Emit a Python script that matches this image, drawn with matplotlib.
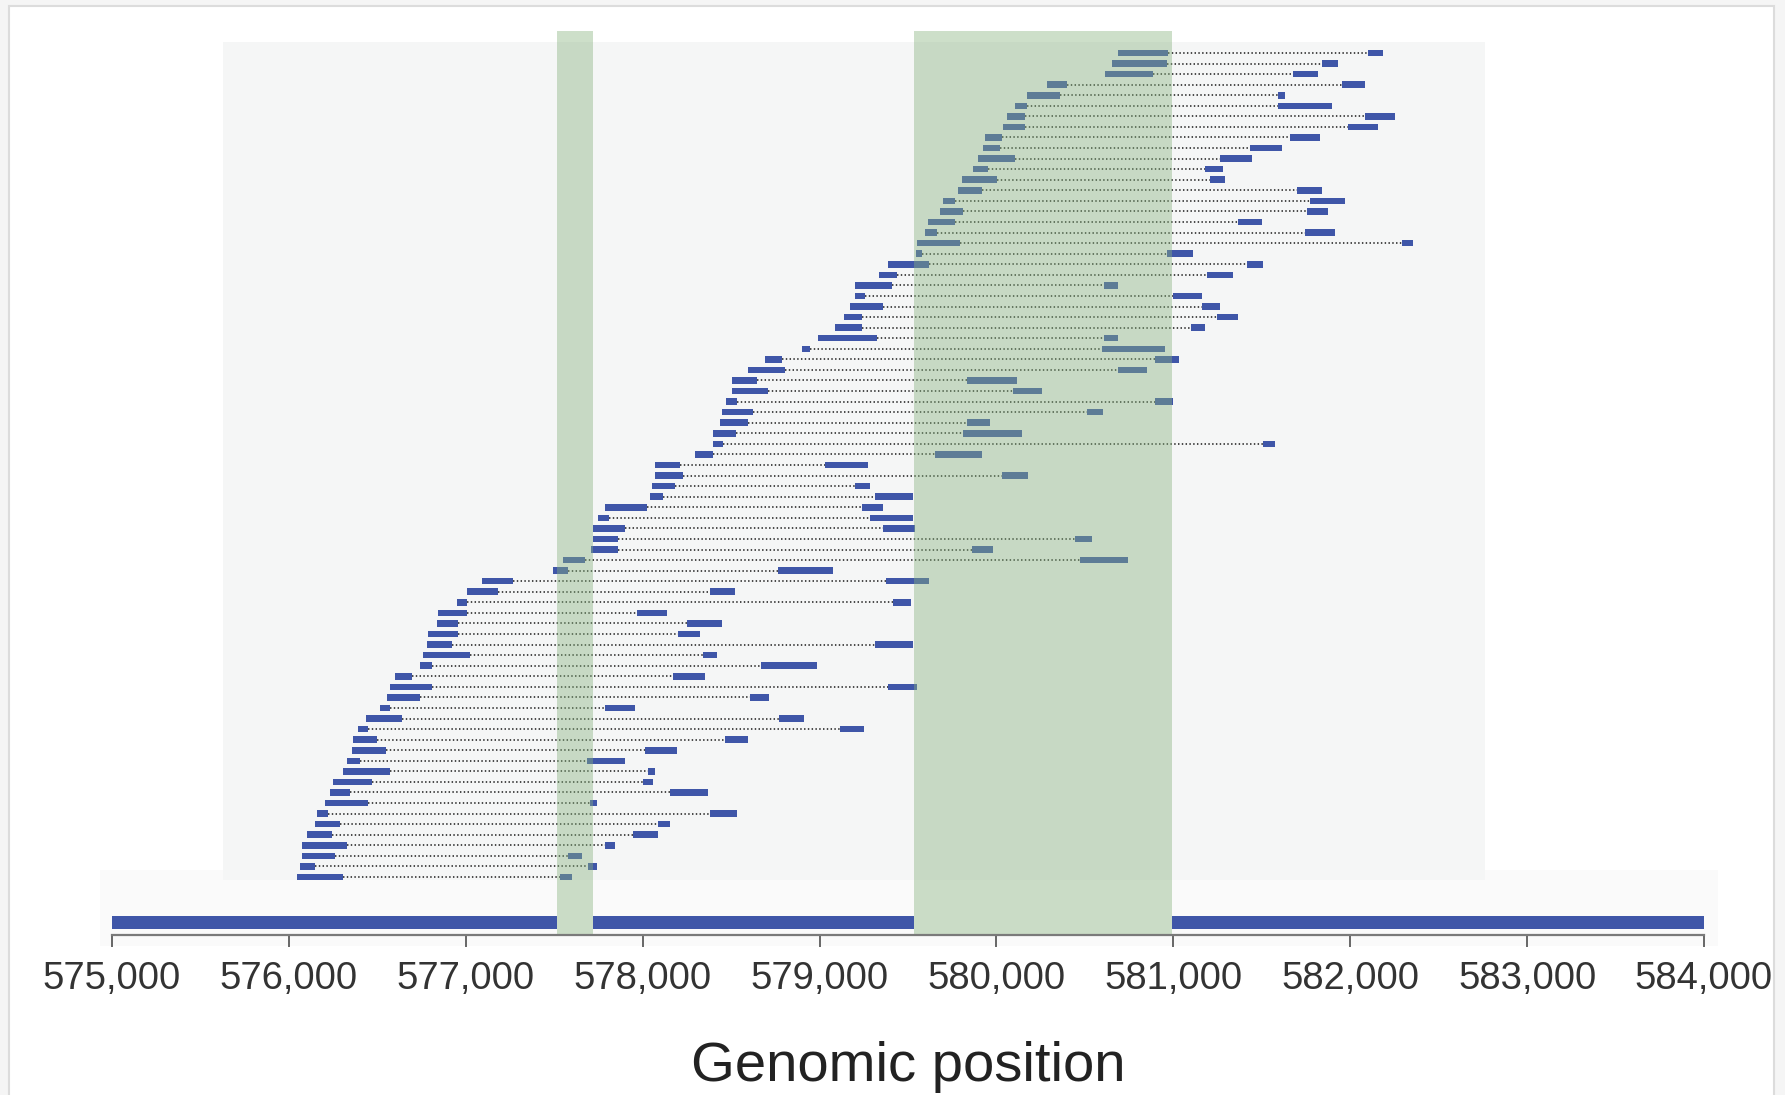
import numpy as np
import matplotlib
matplotlib.use('Agg')
import matplotlib.pyplot as plt
from matplotlib.patches import Rectangle
from matplotlib.ticker import FuncFormatter

# read alignments, top row first: first block and last block (genomic position)
left_start = [580687, 580653, 580613, 580285, 580172, 580105, 580059, 580037, 579935, 579924,
              579895, 579867, 579805, 579782, 579698, 579681, 579613, 579596, 579551, 579545,
              579387, 579336, 579200, 579200, 579172, 579138, 579087, 578991, 578901, 578691,
              578595, 578505, 578505, 578471, 578448, 578437, 578397, 578397, 578296, 578070,
              578070, 578053, 578041, 577787, 577747, 577719, 577719, 577708, 577549, 577493,
              577092, 577007, 576950, 576843, 576837, 576786, 576781, 576758, 576741, 576600,
              576571, 576555, 576515, 576436, 576391, 576362, 576357, 576328, 576306, 576249,
              576232, 576204, 576159, 576148, 576102, 576074, 576074, 576063, 576046]
left_end = [580970, 580964, 580885, 580399, 580359, 580172, 580161, 580161, 580031, 580020,
            580105, 579952, 580003, 579918, 579765, 579811, 579765, 579664, 579794, 579579,
            579618, 579438, 579409, 579257, 579358, 579240, 579240, 579324, 578946, 578787,
            578804, 578646, 578708, 578533, 578624, 578595, 578527, 578454, 578397, 578211,
            578228, 578183, 578115, 578024, 577810, 577900, 577860, 577860, 577674, 577578,
            577267, 577182, 577007, 577007, 576956, 576956, 576922, 577024, 576809, 576696,
            576809, 576741, 576571, 576639, 576447, 576498, 576549, 576402, 576571, 576470,
            576345, 576447, 576221, 576289, 576244, 576328, 576261, 576148, 576306]
right_start = [582100, 581840, 581676, 581953, 581591, 581591, 582083, 581987, 581659, 581433,
               581263, 581179, 581207, 581699, 581772, 581755, 581365, 581744, 582292, 580964,
               581416, 581190, 580608, 580998, 581162, 581246, 581100, 580608, 580596, 580896,
               580687, 579833, 580093, 580896, 580512, 579833, 579811, 581507, 579652, 579031,
               580031, 579200, 579313, 579240, 579285, 579358, 580444, 579862, 580472, 578765,
               579375, 578380, 579415, 577968, 578250, 578200, 579313, 578341, 578669, 578171,
               579387, 578607, 577787, 578770, 579115, 578465, 578013, 577685, 578030, 578002,
               578154, 577702, 578380, 578086, 577945, 577787, 577578, 577691, 577532]
right_end = [582185, 581930, 581817, 582083, 581631, 581897, 582253, 582157, 581829, 581614,
             581444, 581280, 581292, 581840, 581970, 581874, 581501, 581913, 582354, 581111,
             581507, 581337, 580687, 581162, 581263, 581365, 581179, 580687, 580953, 581032,
             580851, 580116, 580257, 580998, 580602, 579963, 580144, 581574, 579918, 579274,
             580178, 579285, 579528, 579358, 579528, 579539, 580540, 579980, 580743, 579076,
             579618, 578522, 579517, 578137, 578448, 578324, 579528, 578420, 578985, 578352,
             579551, 578714, 577956, 578912, 579251, 578595, 578194, 577900, 578070, 578058,
             578369, 577742, 578533, 578154, 578086, 577843, 577657, 577742, 577600]

gene_start = 575000
gene_end = 584000

# highlighted (green) regions
hl_start = [577516, 579534]
hl_end = [577719, 580992]

tick_pos = np.arange(575000, 584001, 1000)

blue = '#3f56a8'
green = '#88b37f'

fig = plt.figure(figsize=(17.85, 10.95), dpi=100, facecolor='#f5f5f5')
fig.add_artist(Rectangle((9 / 1785, -0.01), 1765 / 1785, 1 - 6 / 1095 + 0.01,
                         transform=fig.transFigure, facecolor='white',
                         edgecolor='#dcdcdc', lw=1.5, zorder=-10))

ax = fig.add_axes([112 / 1785, 1 - 935 / 1095, 1592 / 1785, 904 / 1095])
ax.set_facecolor('none')

rows = np.arange(len(left_start))
n = len(rows)
bar_row = n + 3.3

# background panels
ax.add_patch(Rectangle((574932, n - 1.7), 9147, 7.2, facecolor='#fafafa',
                       edgecolor='none', clip_on=False, zorder=0))
ax.add_patch(Rectangle((575627, -1.0), 7134, n + 0.25, facecolor='#f5f6f6',
                       edgecolor='none', clip_on=False, zorder=0.5))

# reads: dotted gap line plus the two blocks
ls = np.array(left_start)
le = np.array(left_end)
rs = np.array(right_start)
re_ = np.array(right_end)
ax.hlines(rows, le, rs, colors='#3a3a3a', linestyles=(0, (0.8, 1.3)), lw=1.3, zorder=2)
ax.barh(rows, le - ls, left=ls, height=0.62, color=blue, edgecolor='none', zorder=3)
ax.barh(rows, re_ - rs, left=rs, height=0.62, color=blue, edgecolor='none', zorder=3)

# gene bar, broken by the highlighted regions
seg_start = [gene_start] + hl_end
seg_end = hl_start + [gene_end]
for s, e in zip(seg_start, seg_end):
    ax.barh(bar_row, e - s, left=s, height=1.2, color=blue, edgecolor='none', zorder=3)

for s, e in zip(hl_start, hl_end):
    ax.axvspan(s, e, color=green, alpha=0.42, lw=0, zorder=4)

ax.set_xlim(gene_start, gene_end)
ax.set_ylim(83.49, -2.08)

for sp in ['left', 'top', 'right']:
    ax.spines[sp].set_visible(False)
ax.spines['bottom'].set_color('#7a7a7a')
ax.spines['bottom'].set_linewidth(1.6)
ax.spines['bottom'].set_zorder(5)

ax.set_yticks([])
ax.set_xticks(tick_pos)
ax.xaxis.set_major_formatter(FuncFormatter(lambda v, p: '{:,.0f}'.format(v)))
ax.tick_params(axis='x', direction='out', length=8.5, width=1.4, color='#666666',
               labelsize=27.5, labelcolor='#333333', pad=10)
for lab in ax.get_xticklabels():
    lab.set_family('Liberation Sans')

ax.set_xlabel('Genomic position', fontsize=40.5, family='Liberation Sans',
              color='#222222', labelpad=32)

fig.savefig('out.png', dpi=100, facecolor=fig.get_facecolor())
